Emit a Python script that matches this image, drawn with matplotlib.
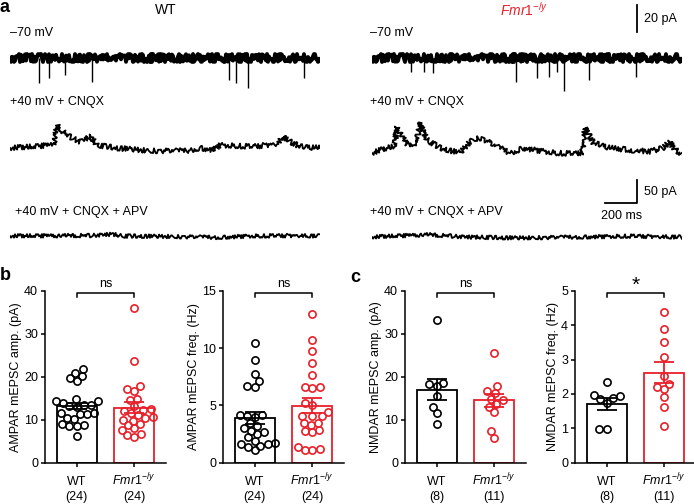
import numpy as np
import matplotlib.pyplot as plt

plt.rcParams['font.family'] = ['Liberation Sans', 'DejaVu Sans']
plt.rcParams['mathtext.fontset'] = 'custom'
plt.rcParams['mathtext.rm'] = 'Liberation Sans'
plt.rcParams['mathtext.it'] = 'Liberation Sans:italic'

W, H = 694, 504
RED = '#E8202A'
FS = 9

# ---------------- panel a: example traces (time in ms, current in pA) ----------------
trace_len = 1937
# -70 mV: flat baseline plus inward mEPSC events
ampa_base_t = [0, trace_len]
ampa_base_i = [0, 0]
wt_ev_t = [181, 244, 344, 512, 1369, 1412, 1487, 1837]
wt_ev_amp = [18, 14.5, 12.3, 17.4, 16, 18, 21.7, 14.5]
ko_ev_t = [244, 325, 381, 900, 1031, 1106, 1156, 1200, 1356, 1650]
ko_ev_amp = [10, 10, 11, 17.4, 14.5, 13.8, 10, 24, 16, 13.8]

# +40 mV + CNQX (coarse shape)
wt_cnqx_t = [0, 144, 250, 271, 296, 354, 437, 504, 542, 667, 875, 1104, 1187,
             1271, 1312, 1521, 1604, 1677, 1704, 1750, 1812, 1937]
wt_cnqx_i = [0, 3, 6.5, 6.5, 48, 28, 14, 25, 6.5, 0, -6, -6, 0,
             -4, 6.5, 3, 6.5, 10, 26, 14, 3, 0]
ko_cnqx_t = [0, 94, 140, 156, 217, 279, 300, 342, 425, 550, 623, 685, 758, 863,
             946, 1030, 1155, 1280, 1315, 1331, 1383, 1488, 1634, 1737, 1821, 1858, 1894, 1937]
ko_cnqx_i = [0, 11, 14, 57, 18, 22, 66, 29, 11, 0, 29, 33, 18, 0,
             11, 6, 0, -1.5, 2, 56, 22, 11, 6, 3.5, 11, 25, 7, -1.5]

# +40 mV + CNQX + APV
wt_apv_t = [0, 500, 640, 700, 1000, 1300, 1500, 1800, 1937]
wt_apv_i = [0, 1, 4, 0, -1, -3, 0, 1, 0]
ko_apv_t = [0, 200, 350, 600, 900, 1300, 1600, 1937]
ko_apv_i = [0, 3, 5, 0, -2, 0, 2, 0]

# ---------------- panels b, c: group data ----------------
groups = ['WT', 'Fmr1']
ampa_amp_wt = [21.9, 20.2, 20.9, 19.6, 19.0, 14.7, 14.4, 14.0, 14.3, 13.4, 13.2, 13.0,
               13.4, 11.6, 11.3, 11.5, 11.4, 10.3, 10.2, 8.6, 8.6, 8.8, 8.9, 6.3]
ampa_amp_ko = [36.0, 23.7, 17.8, 17.2, 16.7, 14.8, 14.6, 13.2, 12.6, 12.0, 12.3, 11.1,
               10.7, 10.3, 11.5, 9.1, 8.7, 9.8, 7.6, 6.7, 6.0, 6.4, 10.0, 8.0]
ampa_freq_wt = [10.4, 8.95, 7.75, 7.15, 6.6, 6.7, 4.2, 4.15, 4.1, 4.0, 3.2, 3.0,
                2.8, 2.7, 2.5, 2.2, 1.9, 1.7, 1.65, 1.6, 1.5, 1.4, 1.1, 3.5]
ampa_freq_ko = [12.97, 10.66, 9.74, 8.73, 7.66, 6.56, 6.5, 6.56, 5.17, 5.03, 4.45, 4.05,
                4.05, 4.1, 3.5, 3.5, 3.3, 2.86, 2.66, 2.8, 1.2, 1.13, 1.13, 1.36]
nmda_amp_wt = [33.2, 18.3, 17.9, 18.6, 15.5, 13.0, 11.5, 9.1]
nmda_amp_ko = [25.6, 17.9, 16.6, 16.3, 14.8, 14.5, 13.6, 13.0, 11.7, 7.3, 5.8]
nmda_freq_wt = [2.34, 1.95, 1.97, 1.88, 1.85, 1.75, 0.97, 0.97]
nmda_freq_ko = [4.38, 3.90, 3.51, 3.06, 2.53, 2.30, 2.19, 2.14, 1.90, 1.62, 1.06]

# mean and SEM as shown by bars
ampa_amp_mean, ampa_amp_sem = [13.2, 12.8], [0.8, 1.3]
ampa_freq_mean, ampa_freq_sem = [3.87, 4.97], [0.52, 0.64]
nmda_amp_mean, nmda_amp_sem = [17.0, 14.5], [2.4, 1.5]
nmda_freq_mean, nmda_freq_sem = [1.70, 2.62], [0.17, 0.31]
n_cells = [[24, 24], [24, 24], [8, 11], [8, 11]]
sig_text = ['ns', 'ns', 'ns', '*']

fig = plt.figure(figsize=(W / 100, H / 100), dpi=100)


def fx(px):
    return px / W


def fy(py):
    return 1 - py / H


def trace_axes(left_px, base_px, px_per_pa, lo, hi):
    # axes whose data units map to fixed pixel scales (6.25 ms / px)
    ax = fig.add_axes([fx(left_px), fy(base_px - lo * px_per_pa),
                       (trace_len / 6.25) / W, (hi - lo) * px_per_pa / H])
    ax.set_xlim(0, trace_len)
    ax.set_ylim(lo, hi)
    ax.axis('off')
    return ax


# -70 mV rows
for left, ev_t, ev_amp in [(10, wt_ev_t, wt_ev_amp), (372, ko_ev_t, ko_ev_amp)]:
    ax = trace_axes(left, 58, 1.38, -30, 10)
    ln, = ax.plot(ampa_base_t, ampa_base_i, color='k', lw=2.8)
    ln.set_sketch_params(4.0, 0.6, 8)
    ax.vlines(ev_t, 0, -np.array(ev_amp), color='k', lw=1.0)
    if left > 100:
        amp_ax = ax

# CNQX rows
for left, base, t, i in [(10, 148, wt_cnqx_t, wt_cnqx_i), (372, 153, ko_cnqx_t, ko_cnqx_i)]:
    ax = trace_axes(left, base, 0.46, -30, 80)
    ln, = ax.plot(t, i, color='k', lw=1.3)
    ln.set_sketch_params(2.6, 0.7, 8)

# APV rows
for left, base, t, i in [(10, 236, wt_apv_t, wt_apv_i), (372, 237, ko_apv_t, ko_apv_i)]:
    ax = trace_axes(left, base, 0.46, -30, 30)
    ln, = ax.plot(t, i, color='k', lw=1.3)
    ln.set_sketch_params(1.9, 0.7, 8)
    if left > 100:
        nmda_ax = ax

# scale bars
amp_ax.plot([1656, 1656], [18.6, 38.6], color='k', lw=1.3, clip_on=False)
amp_ax.text(1700, 28.6, '20 pA', fontsize=FS, va='center', ha='left')
nmda_ax.plot([1456, 1656, 1656], [74, 74, 124], color='k', lw=1.3, clip_on=False)
nmda_ax.text(1700, 98, '50 pA', fontsize=FS, va='center', ha='left')
nmda_ax.text(1562, 46, '200 ms', fontsize=FS, va='center', ha='center')

# panel a labels
fig.text(fx(0), fy(7), 'a', fontsize=13, weight='bold', va='center', ha='left')
fig.text(fx(166), fy(10), 'WT', fontsize=10, va='center', ha='center')
fig.text(fx(524), fy(10), r'$\mathit{Fmr1}^{-/y}$', fontsize=10, color=RED,
         va='center', ha='center')
for left in [10.5, 370.5]:
    fig.text(fx(left), fy(33.5), '\u201370 mV', fontsize=FS, va='center')
    fig.text(fx(left), fy(101.5), '+40 mV + CNQX', fontsize=FS, va='center')
fig.text(fx(15), fy(212), '+40 mV + CNQX + APV', fontsize=FS, va='center')
fig.text(fx(370.5), fy(212), '+40 mV + CNQX + APV', fontsize=FS, va='center')
fig.text(fx(0), fy(276), 'b', fontsize=13, weight='bold', va='center', ha='left')
fig.text(fx(350), fy(277), 'c', fontsize=13, weight='bold', va='center', ha='left')


def swarm(vals, ppx, ppy, d=7.4):
    vals = np.asarray(vals, float)
    xs = np.zeros(len(vals))
    placed = []
    for k in np.argsort(vals):
        y = vals[k] * ppy
        cands = [0.0]
        for px, py in placed:
            dy = abs(py - y)
            if dy < d:
                dx = np.sqrt(d * d - dy * dy)
                cands += [px - dx, px + dx]
        cands.sort(key=abs)
        for c in cands:
            if all((c - px) ** 2 + (y - py) ** 2 >= d * d - 1e-6 for px, py in placed):
                break
        placed.append((c, y))
        xs[k] = c / ppx
    return xs


panels = [
    (45, 'AMPAR mEPSC amp. (pA)', 40, 10, ampa_amp_wt, ampa_amp_ko, ampa_amp_mean, ampa_amp_sem),
    (223, 'AMPAR mEPSC freq. (Hz)', 15, 5, ampa_freq_wt, ampa_freq_ko, ampa_freq_mean, ampa_freq_sem),
    (405, 'NMDAR mEPSC amp. (pA)', 40, 10, nmda_amp_wt, nmda_amp_ko, nmda_amp_mean, nmda_amp_sem),
    (575, 'NMDAR mEPSC freq. (Hz)', 5, 1, nmda_freq_wt, nmda_freq_ko, nmda_freq_mean, nmda_freq_sem),
]
ax_w_px, ax_h_px, ax_bot_px = 121, 172, 462.7
ppx = ax_w_px / 2.1
colors = ['k', RED]

for p, (left, ylab, ymax, ystep, v_wt, v_ko, means, sems) in enumerate(panels):
    ax = fig.add_axes([fx(left), fy(ax_bot_px), ax_w_px / W, ax_h_px / H])
    ax.set_xlim(-0.55, 1.55)
    ax.set_ylim(0, ymax)
    ppy = ax_h_px / ymax
    for g, vals in enumerate([v_wt, v_ko]):
        ax.bar(g, means[g], width=0.7, facecolor='white', edgecolor=colors[g],
               linewidth=1.3, zorder=1)
        ax.plot(g + swarm(vals, ppx, ppy), vals, 'o', ms=5.2, mfc='none',
                mec=colors[g], mew=1.2, zorder=2, clip_on=False)
        ax.errorbar(g, means[g], yerr=sems[g], fmt='none', ecolor=colors[g],
                    elinewidth=1.3, capsize=7.5, capthick=1.3, zorder=3)
    for s in ['top', 'right']:
        ax.spines[s].set_visible(False)
    for s in ['left', 'bottom']:
        ax.spines[s].set_linewidth(1.1)
    ax.set_yticks(np.arange(0, ymax + 0.01, ystep))
    ax.set_xticks([0, 1])
    ax.set_xticklabels([])
    ax.tick_params(width=1.1, length=3, labelsize=FS, pad=2)
    ax.set_ylabel(ylab, fontsize=FS, labelpad=1.5)
    tr = ax.get_xaxis_transform()
    ax.text(0, -0.13, 'WT', transform=tr, fontsize=FS, ha='center', va='baseline')
    ax.text(1, -0.13, r'$\mathit{Fmr1}^{-/y}$', transform=tr, fontsize=FS,
            ha='center', va='baseline')
    for g in range(2):
        ax.text(g, -0.218, '(%d)' % n_cells[p][g], transform=tr, fontsize=FS,
                ha='center', va='baseline')
    # significance bracket
    ax.plot([0, 0, 1, 1], [0.964, 0.987, 0.987, 0.964], color='k', lw=1.1,
            transform=tr, clip_on=False)
    if sig_text[p] == '*':
        ax.text(0.5, 0.975, '*', transform=tr, fontsize=15, ha='center', va='bottom')
    else:
        ax.text(0.5, 1.005, 'ns', transform=tr, fontsize=FS, ha='center', va='bottom')

fig.savefig('out.png', dpi=100)
